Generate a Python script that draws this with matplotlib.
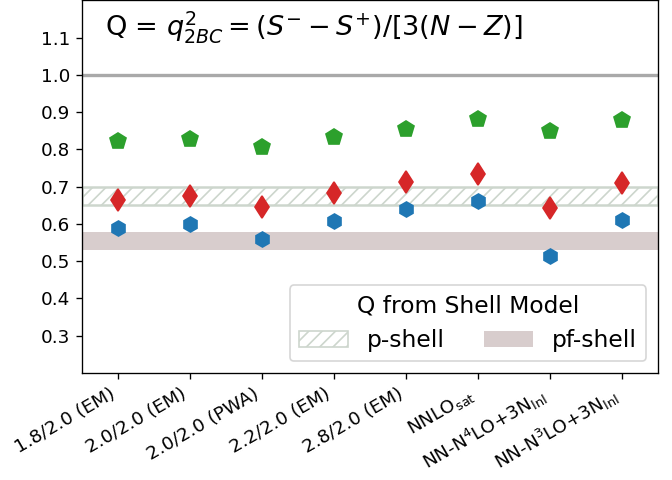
import numpy as np
import matplotlib
matplotlib.use("Agg")
import matplotlib.pyplot as plt
from matplotlib.patches import Patch

labels = ["1.8/2.0 (EM)", "2.0/2.0 (EM)", "2.0/2.0 (PWA)", "2.2/2.0 (EM)",
          "2.8/2.0 (EM)", r"NNLO$_{\rm sat}$", r"NN-N$^4$LO+3N$_{\rm lnl}$",
          r"NN-N$^3$LO+3N$_{\rm lnl}$"]
q_green = [0.823, 0.829, 0.806, 0.834, 0.854, 0.881, 0.849, 0.879]
q_red = [0.665, 0.676, 0.646, 0.683, 0.714, 0.735, 0.642, 0.709]
q_blue = [0.588, 0.601, 0.559, 0.608, 0.639, 0.662, 0.515, 0.610]
p_shell = (0.65, 0.698)
pf_shell = (0.531, 0.578)

x = np.arange(len(labels))

# drawn at 120 dpi so text and marks come out a bit bigger
fig, ax = plt.subplots(figsize=(5.6, 4.0), dpi=120)
fig.subplots_adjust(left=0.122, right=0.979, top=0.999, bottom=0.223)

ax.axhline(1.0, color="darkgray", lw=2)
ax.axhspan(p_shell[0], p_shell[1], facecolor="none", edgecolor="#cdd6cd",
           hatch="///", lw=1.5)
ax.axhspan(pf_shell[0], pf_shell[1], facecolor="#d8cdcd", edgecolor="none")

ax.plot(x, q_green, "p", color="C2", ms=10, ls="none")
ax.plot(x, q_red, "d", color="C3", ms=9.5, ls="none")
ax.plot(x, q_blue, "h", color="C0", ms=9, ls="none")

ax.text(0.04, 0.93, r"Q = $q^2_{2BC} = (S^{-} - S^{+})/[3(N-Z)]$",
        transform=ax.transAxes, fontsize=16.3, va="center")

ax.set_ylim(0.2, 1.2)
ax.set_xlim(-0.5, 7.5)
ax.set_yticks([0.3, 0.4, 0.5, 0.6, 0.7, 0.8, 0.9, 1.0, 1.1])
ax.set_xticks(x)
ax.set_xticklabels(labels, rotation=30, ha="right")
ax.tick_params(labelsize=11)

handles = [Patch(facecolor="none", edgecolor="#cdd6cd", hatch="///", label="p-shell"),
           Patch(facecolor="#d8cdcd", edgecolor="none", label="pf-shell")]
ax.legend(handles=handles, title="Q from Shell Model", ncol=2, loc="lower right",
          fontsize=14, title_fontsize=14, columnspacing=1.7, handlelength=2.1)

fig.savefig("out.png", dpi=120)
